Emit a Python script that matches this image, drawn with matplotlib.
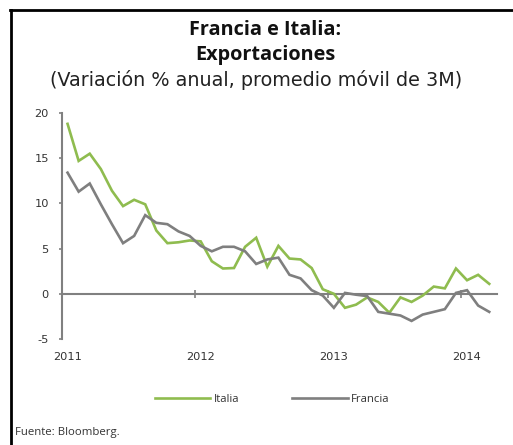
import matplotlib
matplotlib.use("Agg")
import matplotlib.pyplot as plt
from matplotlib.lines import Line2D
import numpy as np

# Monthly data, Jan 2011 - Mar 2014 (3M moving avg, % y/y)
months = list(range(39))
italia = [18.8, 14.7, 15.5, 13.8, 11.4, 9.7, 10.4, 9.9, 7.0, 5.6, 5.7, 5.9,
          5.8, 3.6, 2.8, 2.85, 5.2, 6.2, 3.0, 5.3, 3.9, 3.8, 2.85, 0.5,
          0.0, -1.55, -1.2, -0.4, -0.9, -2.1, -0.4, -0.9, -0.2, 0.8, 0.6, 2.8,
          1.5, 2.1, 1.1]
francia = [13.4, 11.3, 12.2, 9.9, 7.7, 5.6, 6.4, 8.7, 7.85, 7.7, 6.9, 6.4,
           5.3, 4.7, 5.2, 5.2, 4.7, 3.3, 3.8, 4.0, 2.1, 1.7, 0.4, -0.2,
           -1.55, 0.1, -0.1, -0.25, -2.0, -2.2, -2.4, -3.0, -2.3, -2.0, -1.7, 0.1,
           0.4, -1.3, -2.0]
year_labels = ["2011", "2012", "2013", "2014"]
year_label_pos = [0, 12, 24, 36]
year_bounds = [-0.5, 11.5, 23.5, 35.5]
yticks = [-5, 0, 5, 10, 15, 20]

GREEN = "#8fbc4f"
GRAY = "#7f7f7f"
AX = "#808080"
TXT = "#333333"

plt.rcParams['font.family'] = ['Open Sans', 'DejaVu Sans']

fig = plt.figure(figsize=(5.13, 4.45), dpi=100)
ax = fig.add_axes([62/513, 1-339/445, (497-62)/513, (339-113)/445])

ax.plot(months, italia, color=GREEN, lw=1.9, label="Italia", solid_joinstyle='miter')
ax.plot(months, francia, color=GRAY, lw=1.9, label="Francia", solid_joinstyle='miter')

ax.set_ylim(-5, 20)
ax.set_xlim(-0.5, 38.7)
ax.set_yticks(yticks)
ax.set_yticklabels([str(v) for v in yticks], family=['DejaVu Sans'])

for s in ["top", "right"]:
    ax.spines[s].set_visible(False)
ax.spines["left"].set_color(AX)
ax.spines["left"].set_linewidth(1.5)
ax.spines["bottom"].set_position(("data", 0))
ax.spines["bottom"].set_color(AX)
ax.spines["bottom"].set_linewidth(1.5)
ax.spines["bottom"].set_zorder(1)

ax.set_xticks(year_bounds)
ax.set_xticklabels([])
ax.tick_params(axis="x", direction="inout", length=6, width=1.2, color=AX)
ax.tick_params(axis="y", direction="out", length=2.5, width=1.2, color=AX,
               labelsize=8.2, labelcolor=TXT, pad=7)

sec = ax.secondary_xaxis(0)
sec.set_xticks(year_label_pos)
sec.set_xticklabels(year_labels, family=['DejaVu Sans'])
sec.spines["bottom"].set_visible(False)
sec.tick_params(length=0, labelsize=8.2, labelcolor=TXT, pad=9)

# Titles
fig.text(265/513, 1-35/445, "Francia e Italia:", ha="center", va="baseline",
         fontsize=14.3, fontweight="bold", color="#111111")
fig.text(265/513, 1-60/445, "Exportaciones", ha="center", va="baseline",
         fontsize=14.3, fontweight="bold", color="#111111")
fig.text(256/513, 1-86/445, "(Variación % anual, promedio móvil de 3M)", ha="center",
         va="baseline", fontsize=13.8, color="#222222", family=['DejaVu Sans'])

# Legend
leg = fig.legend(loc="center", bbox_to_anchor=(272/513, 1-399/445), ncol=2,
                 frameon=False, fontsize=8.2, handlelength=4.9, columnspacing=4.6,
                 handletextpad=0.3)
for t in leg.get_texts():
    t.set_color(TXT)

fig.text(15/513, 1-433/445, "Fuente: Bloomberg.", ha="left", va="center",
         fontsize=8.2, color=TXT)

# Frame lines
fig.add_artist(Line2D([10/513, 1], [1-9.5/445, 1-9.5/445], transform=fig.transFigure,
                      color="black", lw=2))
fig.add_artist(Line2D([11/513, 11/513], [0, 1-9.5/445], transform=fig.transFigure,
                      color="black", lw=2))

fig.savefig("out.png", dpi=100)
